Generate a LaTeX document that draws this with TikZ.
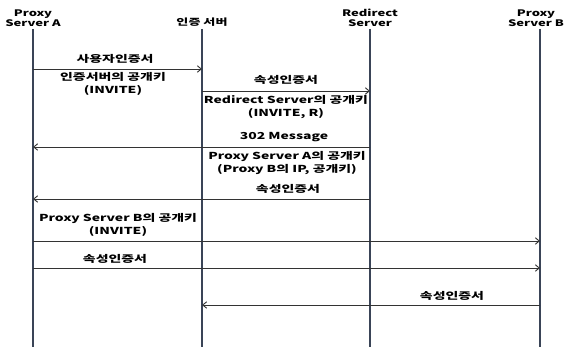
\documentclass[tikz,border=0pt]{standalone}
\usepackage{fontspec}
\setmainfont{Noto Sans CJK KR}[FakeStretch=1.45]
\usetikzlibrary{arrows.meta}
\definecolor{life}{HTML}{3A4457}
\definecolor{msg}{HTML}{333333}
\tikzset{
  lifeline/.style={draw=life,line width=1.4pt},
  msgarrow/.style={draw=msg,line width=0.9pt,-{Straight Barb[length=4pt,width=6.5pt,line width=0.9pt]}},
  lbl/.style={font=\fontsize{9.6}{12.5}\selectfont\bfseries,align=center,inner sep=0pt,text=black},
  hdr/.style={font=\fontsize{9}{10.6}\selectfont\bfseries,align=center,inner sep=0pt,anchor=south,text=black}
}
\begin{document}
\begin{tikzpicture}[x=1pt,y=-1pt]
\useasboundingbox (0,0) rectangle (564,347);
% headers
\node[hdr] (hA) at (33,27) {Proxy\\Server A};
\node[hdr] (hS) at (202,27) {인증 서버};
\node[hdr] (hR) at (370,27) {Redirect\\Server};
\node[hdr] (hB) at (536,27) {Proxy\\Server B};
% lifelines
\coordinate (tA) at (33,29); \coordinate (bA) at (33,347);
\coordinate (tS) at (202,29); \coordinate (bS) at (202,347);
\coordinate (tR) at (370,29); \coordinate (bR) at (370,347);
\coordinate (tB) at (540,29); \coordinate (bB) at (540,347);
\draw[lifeline] (tA) -- (bA);
\draw[lifeline] (tS) -- (bS);
\draw[lifeline] (tR) -- (bR);
\draw[lifeline] (tB) -- (bB);
% message endpoints
\coordinate (m1a) at (33,69);  \coordinate (m1b) at (202,69);
\coordinate (m2a) at (202,91); \coordinate (m2b) at (370,91);
\coordinate (m3a) at (370,147); \coordinate (m3b) at (33,147);
\coordinate (m4a) at (370,199); \coordinate (m4b) at (33,199);
\coordinate (m5a) at (33,241); \coordinate (m5b) at (540,241);
\coordinate (m6a) at (33,268); \coordinate (m6b) at (540,268);
\coordinate (m7a) at (540,305); \coordinate (m7b) at (202,305);
\draw[msgarrow] (m1a) -- (m1b);
\draw[msgarrow] (m2a) -- (m2b);
\draw[msgarrow] (m3a) -- (m3b);
\draw[msgarrow] (m4a) -- (m4b);
\draw[msgarrow] (m5a) -- (m5b);
\draw[msgarrow] (m6a) -- (m6b);
\draw[msgarrow] (m7a) -- (m7b);
% labels
\node[lbl] (l1) at (115,59) {사용자인증서};
\node[lbl] (l2) at (113,84) {인증서버의 공개키\\(INVITE)};
\node[lbl] (l3) at (286,80) {속성인증서};
\node[lbl] (l4) at (286,107) {Redirect Server의 공개키\\(INVITE, R)};
\node[lbl] (l5) at (284,137) {302 Message};
\node[lbl] (l6) at (287,163) {Proxy Server A의 공개키\\(Proxy B의 IP, 공개키)};
\node[lbl] (l7) at (288,189) {속성인증서};
\node[lbl] (l8) at (118,225) {Proxy Server B의 공개키\\(INVITE)};
\node[lbl] (l9) at (115,259) {속성인증서};
\node[lbl] (l10) at (452,296) {속성인증서};
\end{tikzpicture}
\end{document}
